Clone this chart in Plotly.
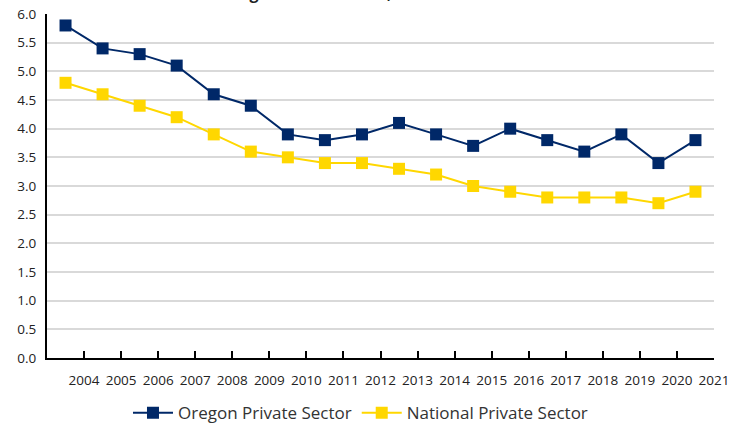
import plotly.graph_objects as go

# data positions 0..17, labels placed on the boundaries between points
tick_labels = [str(y) for y in range(2004, 2022)]
oregon = [5.8, 5.4, 5.3, 5.1, 4.6, 4.4, 3.9, 3.8, 3.9, 4.1, 3.9, 3.7, 4.0, 3.8, 3.6, 3.9, 3.4, 3.8]
national = [4.8, 4.6, 4.4, 4.2, 3.9, 3.6, 3.5, 3.4, 3.4, 3.3, 3.2, 3.0, 2.9, 2.8, 2.8, 2.8, 2.7, 2.9]

NAVY = "#002868"
GOLD = "#FFD700"

x = list(range(len(oregon)))

fig = go.Figure()
fig.add_trace(go.Scatter(x=x, y=oregon, name="Oregon Private Sector", mode="lines+markers",
                         line=dict(color=NAVY, width=2),
                         marker=dict(symbol="square", size=12, color=NAVY)))
fig.add_trace(go.Scatter(x=x, y=national, name="National Private Sector", mode="lines+markers",
                         line=dict(color=GOLD, width=2),
                         marker=dict(symbol="square", size=12, color=GOLD)))

fig.update_layout(
    width=745, height=429,
    margin=dict(l=47, r=31, t=14, b=71),
    paper_bgcolor="white", plot_bgcolor="white",
    font=dict(family="Open Sans, Noto Sans, sans-serif", color="#222"),
    showlegend=True,
    legend=dict(orientation="h", x=0.47, xanchor="center", xref="paper",
                y=0.037, yanchor="middle", yref="container",
                font=dict(size=17, color="#333"), itemwidth=40),
    # title is mostly cut off by the top edge in the original
    annotations=[dict(text="<b>Oregon and National, 2004-2021</b>", xref="paper", yref="paper",
                      x=0.45, y=1.022, xanchor="center", yanchor="bottom", showarrow=False,
                      font=dict(size=16, color="#222"))],
)
fig.update_xaxes(range=[-0.5, 17.5], tickvals=[i + 0.5 for i in x], ticktext=tick_labels,
                 ticks="inside", ticklen=7, tickwidth=2, tickcolor="black",
                 showline=True, linecolor="black", linewidth=2, showgrid=False, zeroline=False,
                 tickfont=dict(size=13.5), ticklabelstandoff=9, automargin=False)
fig.update_yaxes(range=[0, 6], dtick=0.5, tickformat=".1f", showline=True, linecolor="black",
                 linewidth=2, gridcolor="#d9d9d9", gridwidth=1.5, zeroline=False,
                 tickfont=dict(size=13.5), ticks="", ticklabelstandoff=6, automargin=False)

fig.write_html("out.html", config={"displayModeBar": False},
               post_script="document.body.style.margin='0px';")
